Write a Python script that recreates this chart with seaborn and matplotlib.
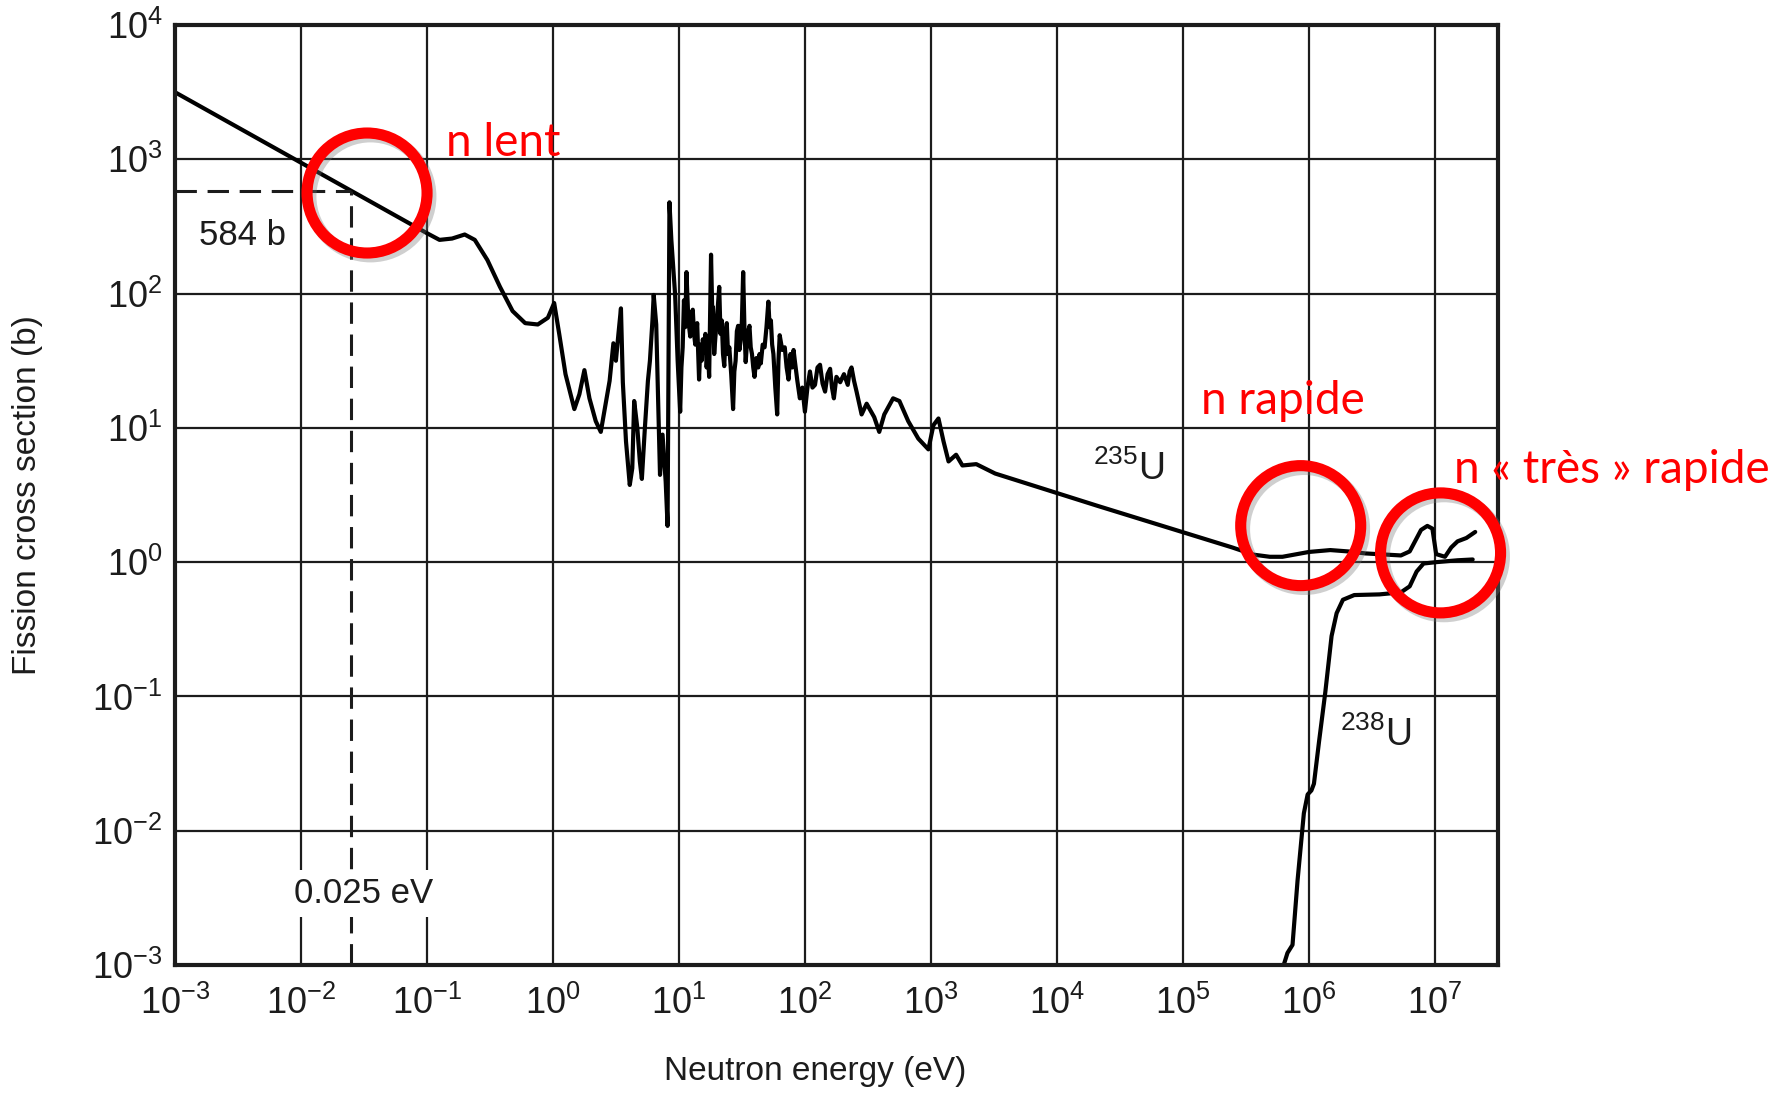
import matplotlib
matplotlib.use("Agg")
import numpy as np
import pandas as pd
import matplotlib.pyplot as plt
from matplotlib.patches import Ellipse
from matplotlib.transforms import ScaledTranslation
import seaborn as sns

# Fission cross section of U-235 (log10 of energy in eV, log10 of sigma in barns)
u235_log_energy = [
    -3.00, -2.00, -1.602, -1.00, -0.90, -0.80, -0.70, -0.62, -0.52, -0.42,
    -0.32, -0.22, -0.12, -0.04, 0.01, 0.05, 0.10, 0.17, 0.21, 0.25,
    0.29, 0.34, 0.38, 0.45, 0.48, 0.50, 0.52, 0.54, 0.555, 0.58,
    0.61, 0.63, 0.645, 0.67, 0.69, 0.706, 0.73, 0.754, 0.77, 0.79,
    0.80, 0.82, 0.835, 0.85, 0.87, 0.895, 0.91, 0.925, 0.94, 0.97,
    0.99, 1.01, 1.02, 1.03, 1.04, 1.05, 1.06, 1.075, 1.09, 1.10,
    1.11, 1.12, 1.13, 1.145, 1.16, 1.17, 1.18, 1.19, 1.20, 1.21,
    1.22, 1.23, 1.24, 1.255, 1.265, 1.27, 1.28, 1.29, 1.305, 1.32,
    1.33, 1.34, 1.35, 1.36, 1.37, 1.38, 1.39, 1.40, 1.415, 1.43,
    1.44, 1.45, 1.46, 1.47, 1.48, 1.49, 1.50, 1.51, 1.52, 1.53,
    1.545, 1.56, 1.57, 1.58, 1.59, 1.60, 1.615, 1.63, 1.64, 1.65,
    1.665, 1.68, 1.695, 1.71, 1.72, 1.73, 1.74, 1.75, 1.765, 1.78,
    1.79, 1.80, 1.82, 1.84, 1.855, 1.87, 1.885, 1.90, 1.91, 1.92,
    1.94, 1.96, 1.98, 2.00, 2.02, 2.04, 2.06, 2.08, 2.10, 2.12,
    2.14, 2.16, 2.18, 2.20, 2.215, 2.23, 2.25, 2.28, 2.31, 2.34,
    2.355, 2.37, 2.39, 2.41, 2.45, 2.49, 2.55, 2.59, 2.63, 2.70,
    2.75, 2.82, 2.90, 2.98, 3.02, 3.06, 3.10, 3.14, 3.20, 3.25,
    3.36, 3.51, 4.32, 5.39, 5.56, 5.69, 5.79, 6.00, 6.17, 6.31,
    6.45, 6.73, 6.80, 6.89, 6.94, 6.98, 7.01, 7.08, 7.13, 7.18,
    7.25, 7.32,
]
u235_log_sigma = [
    3.50, 2.975, 2.766, 2.45, 2.40, 2.41, 2.44, 2.40, 2.25, 2.05,
    1.87, 1.78, 1.77, 1.82, 1.93, 1.70, 1.40, 1.14, 1.25, 1.43,
    1.22, 1.05, 0.97, 1.35, 1.63, 1.50, 1.70, 1.89, 1.34, 0.90,
    0.575, 0.70, 1.20, 1.00, 0.75, 0.62, 1.00, 1.35, 1.50, 1.80,
    1.99, 1.77, 1.20, 0.65, 0.95, 0.60, 0.27, 2.68, 2.40, 1.99,
    1.50, 1.12, 1.45, 1.60, 1.95, 1.75, 2.16, 1.80, 1.68, 1.85,
    1.88, 1.70, 1.62, 1.78, 1.36, 1.62, 1.50, 1.66, 1.56, 1.70,
    1.45, 1.58, 1.38, 2.29, 1.85, 1.90, 1.55, 1.68, 1.85, 2.05,
    1.70, 1.80, 1.55, 1.46, 1.70, 1.78, 1.55, 1.60, 1.40, 1.14,
    1.42, 1.50, 1.72, 1.76, 1.58, 1.65, 1.80, 2.16, 1.75, 1.49,
    1.70, 1.76, 1.60, 1.55, 1.45, 1.38, 1.52, 1.45, 1.55, 1.48,
    1.62, 1.60, 1.75, 1.94, 1.75, 1.80, 1.62, 1.55, 1.30, 1.10,
    1.50, 1.69, 1.58, 1.60, 1.45, 1.36, 1.55, 1.45, 1.58, 1.50,
    1.35, 1.22, 1.30, 1.12, 1.30, 1.42, 1.30, 1.32, 1.45, 1.47,
    1.33, 1.27, 1.40, 1.44, 1.30, 1.22, 1.38, 1.34, 1.40, 1.32,
    1.42, 1.45, 1.35, 1.27, 1.10, 1.18, 1.08, 0.97, 1.10, 1.22,
    1.20, 1.05, 0.92, 0.84, 1.02, 1.07, 0.90, 0.75, 0.80, 0.72,
    0.73, 0.66, 0.42, 0.11, 0.056, 0.04, 0.04, 0.076, 0.09, 0.08,
    0.065, 0.05, 0.08, 0.24, 0.27, 0.25, 0.06, 0.04, 0.11, 0.155,
    0.18, 0.225,
]

# Fission cross section of U-238 (threshold reaction)
u238_log_energy = [
    5.80, 5.83, 5.87, 5.91, 5.96, 5.99, 6.02, 6.04, 6.08, 6.13,
    6.18, 6.22, 6.27, 6.36, 6.56, 6.73, 6.80, 6.855, 6.91, 7.01,
    7.18, 7.30,
]
u238_log_sigma = [
    -3.00, -2.91, -2.85, -2.37, -1.87, -1.73, -1.70, -1.65, -1.34, -0.97,
    -0.55, -0.38, -0.28, -0.245, -0.24, -0.225, -0.18, -0.07, -0.01, 0.00,
    0.014, 0.02,
]

# Axis decades and tick labels
x_tick_exponents = [-3, -2, -1, 0, 1, 2, 3, 4, 5, 6, 7]
y_tick_exponents = [-3, -2, -1, 0, 1, 2, 3, 4]
x_tick_labels = [r"$10^{-3}$", r"$10^{-2}$", r"$10^{-1}$", r"$10^{0}$",
                 r"$10^{1}$", r"$10^{2}$", r"$10^{3}$", r"$10^{4}$",
                 r"$10^{5}$", r"$10^{6}$", r"$10^{7}$"]
y_tick_labels = [r"$10^{-3}$", r"$10^{-2}$", r"$10^{-1}$", r"$10^{0}$",
                 r"$10^{1}$", r"$10^{2}$", r"$10^{3}$", r"$10^{4}$"]
log_x_range = (-3.0, 7.5)
log_y_range = (-3.0, 4.0)

# Thermal point
thermal_energy = 0.025   # eV
thermal_sigma = 584      # b

# Highlighted regions (log10 E, log10 sigma) and their captions
region_centers = [(-1.475, 2.749), (5.935, 0.272), (7.045, 0.069)]
region_captions = ["n lent", "n rapide", "n « très » rapide"]
caption_positions = [(-0.852, 3.028), (5.141, 1.10), (7.153, 0.593)]

df = pd.concat([
    pd.DataFrame({"energy": 10.0 ** np.array(u235_log_energy),
                  "sigma": 10.0 ** np.array(u235_log_sigma),
                  "isotope": "235U"}),
    pd.DataFrame({"energy": 10.0 ** np.array(u238_log_energy),
                  "sigma": 10.0 ** np.array(u238_log_sigma),
                  "isotope": "238U"}),
], ignore_index=True)

sns.set_theme(style="white")
plt.rcParams.update({
    "font.family": ["Liberation Sans", "DejaVu Sans"],
    "mathtext.fontset": "custom",
    "mathtext.rm": "Liberation Sans",
    "mathtext.it": "Liberation Sans",
    "mathtext.bf": "Liberation Sans",
    "mathtext.default": "regular",
})

ink = "#1c1c1c"
fig = plt.figure(figsize=(17.83, 10.93), dpi=100)
fig.patch.set_facecolor("white")
ax_rect = [0.0981, 0.1171, 0.742, 0.860]
ax = fig.add_axes(ax_rect)

sns.lineplot(data=df, x="energy", y="sigma", hue="isotope",
             palette={"235U": "black", "238U": "black"},
             estimator=None, sort=False, legend=False, linewidth=3.0, ax=ax)

ax.set_xscale("log")
ax.set_yscale("log")
ax.set_xlim(10 ** log_x_range[0], 10 ** log_x_range[1])
ax.set_ylim(10 ** log_y_range[0], 10 ** log_y_range[1])
ax.set_xticks([10.0 ** e for e in x_tick_exponents])
ax.set_yticks([10.0 ** e for e in y_tick_exponents])
ax.set_xticklabels(x_tick_labels)
ax.set_yticklabels(y_tick_labels)
ax.xaxis.set_minor_locator(matplotlib.ticker.NullLocator())
ax.yaxis.set_minor_locator(matplotlib.ticker.NullLocator())
ax.tick_params(axis="both", length=0, labelsize=26, colors=ink)
ax.tick_params(axis="x", pad=15)
ax.tick_params(axis="y", pad=9)
ax.grid(True, which="major", color=ink, linewidth=1.6)
for s in ax.spines.values():
    s.set_color(ink)
    s.set_linewidth(3.0)

ax.set_xlabel("Neutron energy (eV)", fontsize=24, color=ink)
ax.set_ylabel("Fission cross section (b)", fontsize=24, color=ink)
ax.xaxis.set_label_coords(0.484, -0.097)
ax.yaxis.set_label_coords(-0.1, 0.5)

# Thermal reference lines
ax.plot([10 ** log_x_range[0], thermal_energy], [thermal_sigma, thermal_sigma],
        color=ink, linewidth=2.2, linestyle=(0, (7, 3.5)))
ax.plot([thermal_energy, thermal_energy], [10 ** log_y_range[0], thermal_sigma],
        color=ink, linewidth=2.2, linestyle=(0, (7, 3.5)))
ax.text(10 ** -2.46, 10 ** 2.43, f"{thermal_sigma} b", fontsize=25, color=ink,
        ha="center", va="center")
ax.text(10 ** -1.50, 10 ** -2.47, f"{thermal_energy} eV", fontsize=25, color=ink,
        ha="center", va="center",
        bbox=dict(facecolor="white", edgecolor="none", pad=5))

# Isotope labels
ax.text(10 ** 4.57, 10 ** 0.695, r"$^{235}$U", fontsize=27, color=ink,
        ha="center", va="center")
ax.text(10 ** 6.53, 10 ** -1.29, r"$^{238}$U", fontsize=27, color=ink,
        ha="center", va="center")

# Highlighted regions
ax_w_px = ax_rect[2] * 1783
ax_h_px = ax_rect[3] * 1093
diam_px = 120.0
shadow_tr = ax.transAxes + ScaledTranslation(2.5 / 72, -2.5 / 72, fig.dpi_scale_trans)
for (lx, ly) in region_centers:
    fx = (lx - log_x_range[0]) / (log_x_range[1] - log_x_range[0])
    fy = (ly - log_y_range[0]) / (log_y_range[1] - log_y_range[0])
    size = dict(width=diam_px / ax_w_px, height=diam_px / ax_h_px)
    ax.add_patch(Ellipse((fx, fy), **size, transform=shadow_tr, fill=False,
                         edgecolor="#777777", alpha=0.35, linewidth=8.5,
                         clip_on=False, zorder=5))
    ax.add_patch(Ellipse((fx, fy), **size, transform=ax.transAxes, fill=False,
                         edgecolor="#ff0000", linewidth=8.0,
                         clip_on=False, zorder=6))

for text, (lx, ly) in zip(region_captions, caption_positions):
    ax.text(10 ** lx, 10 ** ly, text, fontsize=33, color="#ff0000",
            family=["Lato", "DejaVu Sans"], ha="left", va="baseline",
            clip_on=False, zorder=7)

fig.savefig("out.png", dpi=100, facecolor="white")
